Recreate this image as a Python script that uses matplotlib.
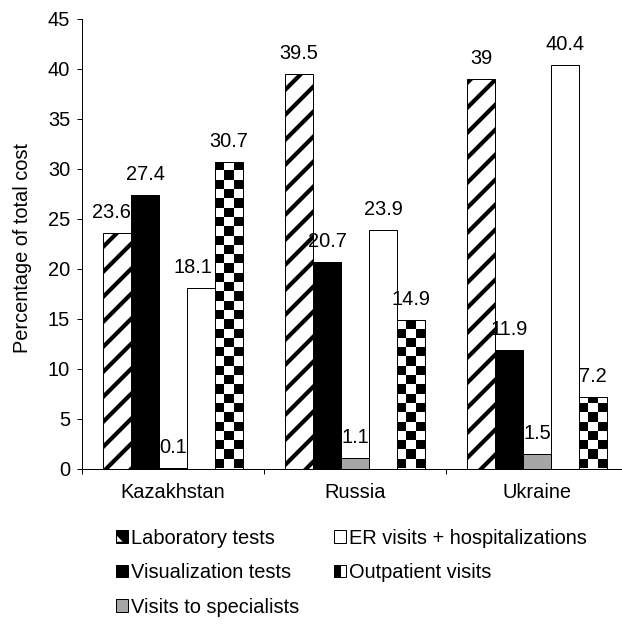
import numpy as np
import matplotlib
matplotlib.use('Agg')
import matplotlib.pyplot as plt
from matplotlib.patches import Rectangle, Polygon
from matplotlib.legend_handler import HandlerTuple, HandlerPatch

# ---------------- data ----------------
countries = ['Kazakhstan', 'Russia', 'Ukraine']
series_names = ['Laboratory tests', 'Visualization tests', 'Visits to specialists',
                'ER visits + hospitalizations', 'Outpatient visits']
lab_tests = [23.6, 39.5, 39.0]
visualization_tests = [27.4, 20.7, 11.9]
visits_specialists = [0.1, 1.1, 1.5]
er_visits = [18.1, 23.9, 40.4]
outpatient_visits = [30.7, 14.9, 7.2]
yticks = [0, 5, 10, 15, 20, 25, 30, 35, 40, 45]
ylabel = 'Percentage of total cost'

series_values = [lab_tests, visualization_tests, visits_specialists, er_visits, outpatient_visits]

# ---------------- style ----------------
DPI = 75
W, H = 622, 627
plt.rcParams['font.family'] = ['Liberation Sans', 'DejaVu Sans']
plt.rcParams['font.size'] = 19.2
plt.rcParams['hatch.linewidth'] = 4.0
plt.rcParams['hatch.color'] = 'black'

styles = [
    dict(facecolor='white', hatch='/'),
    dict(facecolor='black'),
    dict(facecolor='#a6a6a6'),
    dict(facecolor='white'),
    dict(facecolor='none', checker=True),
]
# horizontal nudges (points) of a few value labels, as placed in the original
label_dx = {(0, 0): -5.8, (3, 0): -7.7}

fig = plt.figure(figsize=(W / DPI, H / DPI), dpi=DPI)
ax = fig.add_axes([82 / W, 158.5 / H, 546 / W, 450 / H])

x = np.arange(len(countries))
bw = 0.1538
checker_cell = 0.93  # data units (height of a checker square)

def add_checker(ax, bar):
    x0, w, h = bar.get_x(), bar.get_width(), bar.get_height()
    nrows = int(np.ceil(h / checker_cell))
    ncols = 3
    pat = (np.add.outer(np.arange(nrows), np.arange(ncols)) % 2 == 0)
    img = np.where(pat, 0.0, 1.0)
    im = ax.imshow(img, cmap='gray', vmin=0, vmax=1, origin='lower',
                   extent=(x0, x0 + w, 0, nrows * checker_cell), aspect='auto',
                   interpolation='nearest', zorder=1.5)
    im.set_clip_path(bar)

for i, (vals, st) in enumerate(zip(series_values, styles)):
    pos = x + (i - 2) * bw
    kw = dict(facecolor=st['facecolor'], edgecolor='black', linewidth=0.96, zorder=2)
    if 'hatch' in st:
        kw['hatch'] = st['hatch']
    bars = ax.bar(pos, vals, width=bw, **kw)
    for j, (b, v) in enumerate(zip(bars, vals)):
        if st.get('checker'):
            add_checker(ax, b)
        ax.annotate(f'{v:g}', xy=(b.get_x() + b.get_width() / 2, v),
                    xytext=(label_dx.get((i, j), 0), 10), textcoords='offset points',
                    ha='center', va='bottom', zorder=3)

ax.set_xlim(-0.5, 2.5)
ax.set_ylim(0, 45)
ax.set_yticks(yticks)
ax.set_xticks(x)
ax.set_xticklabels(countries)
ax.set_xticks(np.arange(len(countries) + 1) - 0.5, minor=True)
ax.tick_params(axis='x', which='major', length=0, pad=14)
ax.tick_params(axis='x', which='minor', length=4.8, width=0.96, direction='out')
ax.tick_params(axis='y', length=4.8, width=0.96, direction='out', pad=6.5)
for s in ['top', 'right']:
    ax.spines[s].set_visible(False)
for s in ['left', 'bottom']:
    ax.spines[s].set_linewidth(0.96)
ax.set_ylabel(ylabel)
ax.yaxis.set_label_coords(-0.0916, 0.49)

# legend
def corner_triangle(legend, orig_handle, xdescent, ydescent, width, height, fontsize):
    x0, y0 = -xdescent, -ydescent
    return Polygon([(x0 + 1, y0 + 1), (x0 + 0.55 * width, y0 + 1), (x0 + 1, y0 + 0.55 * height)],
                   closed=True)

h_lab = (Rectangle((0, 0), 1, 1, facecolor='black', edgecolor='black', linewidth=0.96),
         Polygon([(0, 0), (1, 0), (0, 1)], facecolor='white', edgecolor='none'))
h_vis = Rectangle((0, 0), 1, 1, facecolor='black', edgecolor='black', linewidth=0.96)
h_spec = Rectangle((0, 0), 1, 1, facecolor='#a6a6a6', edgecolor='black', linewidth=0.96)
h_er = Rectangle((0, 0), 1, 1, facecolor='white', edgecolor='black', linewidth=0.96)
h_out = [Rectangle((0, 0), 1, 1, facecolor='black', edgecolor='black', linewidth=0.96),
         Rectangle((0, 0), 1, 1, facecolor='white', edgecolor='black', linewidth=0.96)]
h_out = tuple(h_out)

class SideBySide(HandlerTuple):
    pass

hmap = {
    h_lab: HandlerTuple(ndivide=1, pad=0),
    h_out: HandlerTuple(ndivide=None, pad=0),
    Polygon: HandlerPatch(patch_func=corner_triangle),
}
fig.legend([h_lab, h_vis, h_spec, h_er, h_out], series_names,
           handler_map=hmap,
           loc='upper left', bbox_to_anchor=(116 / W, (H - 528.5) / H),
           bbox_transform=fig.transFigure, ncol=2, frameon=False,
           borderpad=0, borderaxespad=0, handlelength=0.6, handleheight=0.6,
           handletextpad=0.15, columnspacing=1.75, labelspacing=0.78)

fig.savefig('out.png', dpi=DPI)
